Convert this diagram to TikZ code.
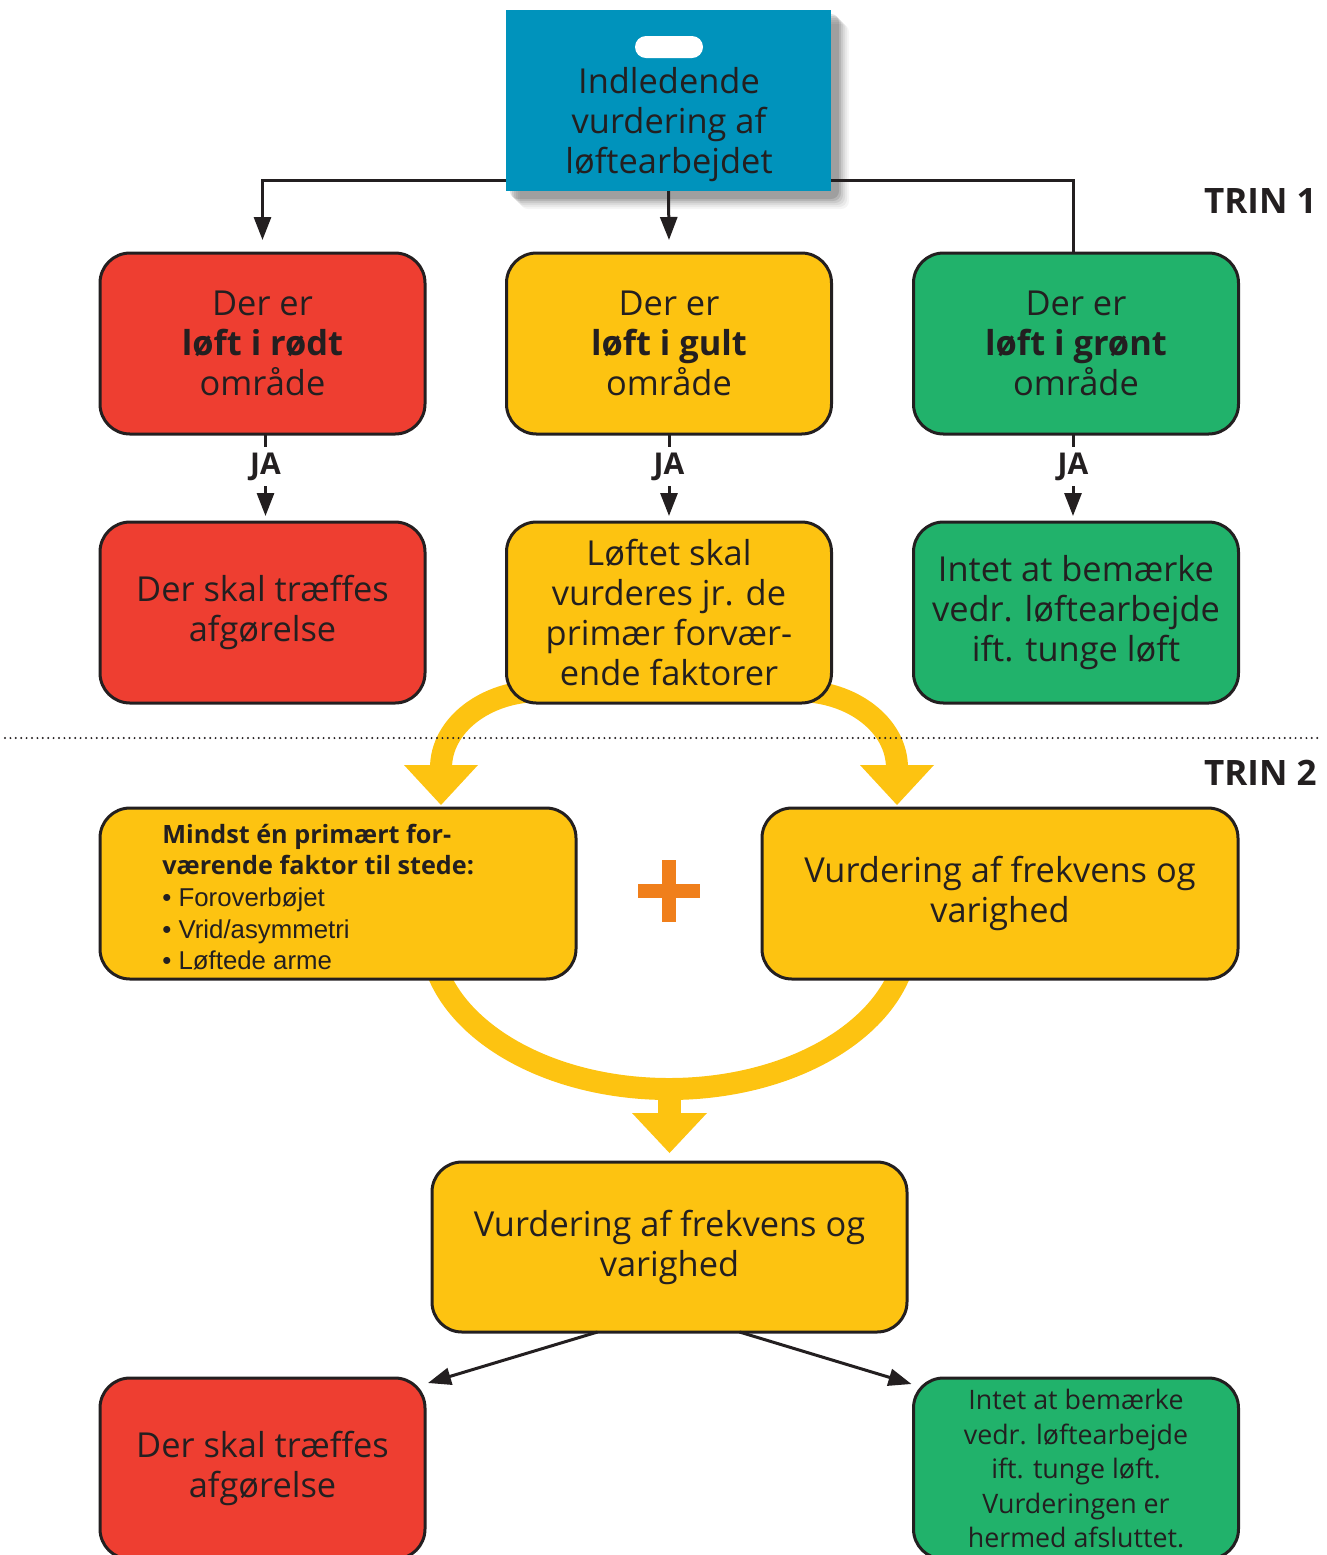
\documentclass[tikz,border=0pt]{standalone}
\usepackage{fontspec}
\setmainfont{Open Sans}
\newfontfamily\lightfont{Liberation Sans}
\usetikzlibrary{arrows.meta,calc}
\definecolor{ink}{HTML}{231F20}
\definecolor{cred}{HTML}{EE3E31}
\definecolor{cyel}{HTML}{FDC311}
\definecolor{cgrn}{HTML}{21B26B}
\definecolor{cblue}{HTML}{0093BC}
\definecolor{corange}{HTML}{F07F1B}
\tikzset{
  box/.style={draw=ink, line width=1.5pt, rounded corners=15pt, minimum width=162.5pt, minimum height=90.5pt, inner sep=0pt, outer sep=0pt, align=center, text=ink, font=\fontsize{17.2}{20}\selectfont},
  widebox/.style={box, minimum width=238pt, minimum height=85.5pt},
  conn/.style={draw=ink, line width=1.5pt},
  tip/.style={conn, -{Triangle[length=11.5pt,width=8.5pt]}},
  ja/.style={fill=white, inner sep=0pt, minimum height=19.5pt, minimum width=14pt, text=ink, font=\bfseries\fontsize{15}{16}\selectfont},
  trin/.style={anchor=east, inner sep=0pt, text=ink, font=\bfseries\fontsize{17.5}{19}\selectfont},
  band/.style={draw=cyel, line width=11pt},
  headfill/.style={fill=cyel, draw=none},
}
\begin{document}
\begin{tikzpicture}[x=0.5pt,y=-0.5pt]
\useasboundingbox (0,0) rectangle (1327,1555);
\clip (0,0) rectangle (1327,1555);
% yellow bands (behind boxes)
\draw[band] (540,691) .. controls (486,691) and (441,725) .. (441,768);
\draw[band] (798,691) .. controls (852,691) and (897,725) .. (897,768);
\fill[headfill] (404,765) -- (478,765) -- (441,805) -- cycle;
\fill[headfill] (860,765) -- (934,765) -- (897,805) -- cycle;
\draw[band] (430,933) arc[start angle=180, end angle=0, x radius=239, y radius=156];
\fill[headfill] (658,1085) rectangle (681,1115);
\fill[headfill] (632,1113) -- (707,1113) -- (669.5,1153) -- cycle;
% plus
\fill[corange] (638,884) rectangle (700,898);
\fill[corange] (662,860) rectangle (676,922);
% shadow of blue box
\foreach \o/\a in {14/0.04,12/0.05,10/0.06,8/0.08,6/0.1,4/0.12}{
  \fill[black, opacity=\a, rounded corners=4pt] (512+\o-6,16+\o-6) rectangle (835+\o,195+\o);
}
% top box
\node[box, draw=none, fill=cblue, rounded corners=0pt] (blue) at (668.5,100.5) {};
\node[fill=white, minimum width=34pt, minimum height=11pt, rounded corners=5.5pt, inner sep=0pt] (pill) at (669,47) {};
\node[align=center, text=ink, font=\fontsize{17.2}{20}\selectfont, inner sep=0pt] (bluetext) at (669,125) {Indledende\\vurdering af\\løftearbejdet};
% row 1
\node[box, fill=cred] (red1) at (262.5,343.5) {Der er\\\textbf{løft i rødt}\\område};
\node[box, fill=cyel] (yel1) at (669,343.5) {Der er\\\textbf{løft i gult}\\område};
\node[box, fill=cgrn] (grn1) at (1076,343.5) {Der er\\\textbf{løft i grønt}\\område};
% row 2
\node[box, fill=cred] (red2) at (262.5,612.5) {Der skal træffes\\afgørelse};
\node[box, fill=cyel] (yel2) at (669,612.5) {Løftet skal\\vurderes jr. de\\primær forvær-\\ende faktorer};
\node[box, fill=cgrn] (grn2) at (1076,612.5) {Intet at bemærke\\vedr. løftearbejde\\ift. tunge løft};
% connectors from top
\coordinate (hy) at (0,180);
\draw[tip] (blue.west |- hy) -| ([yshift=6.5pt]red1.north);
\draw[tip] (blue.south) -- ([yshift=6.5pt]yel1.north);
\draw[conn] (blue.east |- hy) -| ([xshift=-1.5pt]grn1.north);
% JA connectors
\draw[tip] ([xshift=1.5pt]red1.south) -- node[ja, pos=0.4] (ja1) {JA} ([xshift=1.5pt,yshift=3pt]red2.north);
\draw[tip] (yel1.south) -- node[ja, pos=0.4] (ja2) {JA} ([yshift=3pt]yel2.north);
\draw[tip] ([xshift=-1.5pt]grn1.south) -- node[ja, pos=0.4] (ja3) {JA} ([xshift=-1.5pt,yshift=3pt]grn2.north);
% dotted separator
\draw[ink, line width=1.1pt, line cap=round, dash pattern=on 0pt off 2.7pt] (5,738) -- (1322,738);
\node[trin] (trin1) at (1317,201) {TRIN 1};
\node[trin] (trin2) at (1317,773) {TRIN 2};
% row 3
\node[widebox, fill=cyel] (yl3) at (338,893.5) {};
\node[anchor=west, align=left, inner sep=0pt, text=ink, font=\fontsize{12.6}{15.8}\selectfont] (yl3text) at (162,897)
  {\textbf{Mindst én primært for-}\\\textbf{værende faktor til stede:}\\{\lightfont\fontsize{12.9}{15.8}\selectfont • Foroverbøjet}\\{\lightfont\fontsize{12.9}{15.8}\selectfont • Vrid/asymmetri}\\{\lightfont\fontsize{12.9}{15.8}\selectfont • Løftede arme}};
\node[widebox, fill=cyel] (yr3) at (1000,893.5) {Vurdering af frekvens og\\varighed};
% row 4
\node[widebox, fill=cyel, minimum width=237.5pt, minimum height=85pt] (mid) at (669.5,1247) {Vurdering af frekvens og\\varighed};
% row 5
\node[box, fill=cred] (red4) at (262.5,1468.5) {Der skal træffes\\afgørelse};
\node[box, fill=cgrn, font=\fontsize{13.4}{17.25}\selectfont] (grn4) at (1076,1468.5) {Intet at bemærke\\vedr. løftearbejde\\ift. tunge løft.\\Vurderingen er\\hermed afsluttet.};
\draw[tip] ([xshift=-36pt]mid.south) -- ([xshift=1.5pt,yshift=-2.5pt]red4.north east);
\draw[tip] ([xshift=35pt]mid.south) -- ([xshift=-1pt,yshift=-3pt]grn4.north west);
\end{tikzpicture}
\end{document}
